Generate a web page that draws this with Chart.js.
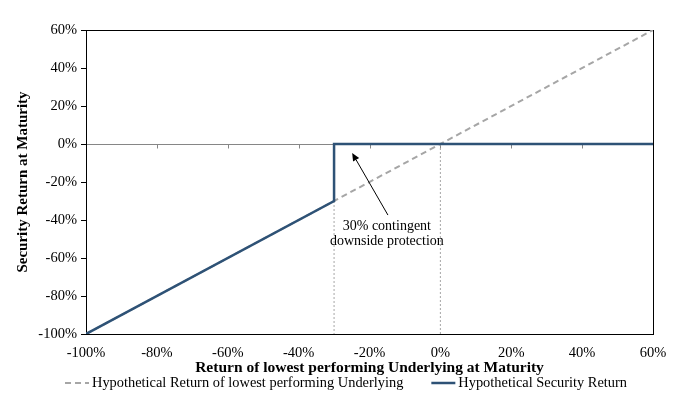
<!DOCTYPE html>
<html><head><meta charset="utf-8">
<script src="https://cdn.jsdelivr.net/npm/chart.js@4.4.1/dist/chart.umd.min.js"></script>
<style>html,body{margin:0;padding:0;background:#fff;} #wrap{width:692px;height:400px;position:relative;}</style>
</head><body><div id="wrap"><canvas id="c"></canvas></div>
<script>
const axisTicks = [-100, -80, -60, -40, -20, 0, 20, 40, 60];
const underlyingX = [-100, 60];
const underlyingY = [-100, 60];
const securityX = [-100, -30, -30, 60];
const securityY = [-100, -30, 0, 0];
const barrierLineX = [-30, -30];
const barrierLineY = [-30, -100];
const zeroLineX = [0, 0];
const zeroLineY = [0, -100];
const seriesNames = ['Hypothetical Return of lowest performing Underlying', 'Hypothetical Security Return'];
const xTitle = 'Return of lowest performing Underlying at Maturity';
const yTitle = 'Security Return at Maturity';
const noteLines = ['30% contingent', 'downside protection'];
const noteAnchor = [-15.1, -43.2];
const arrowTail = [-14.8, -37.4];
const arrowHead = [-24.9, -4.7];

const pts = (xs, ys) => xs.map((v, i) => ({x: v, y: ys[i]}));
const FONT = '"Liberation Serif", "DejaVu Serif", serif';

const framePlugin = {
  id: 'framePlugin',
  beforeDatasetsDraw(chart) {
    const {ctx, chartArea: a, scales: {x, y}} = chart;
    ctx.save();
    const y0 = Math.round(y.getPixelForValue(0)) + 0.5;
    ctx.strokeStyle = '#868686';
    ctx.lineWidth = 1;
    ctx.beginPath();
    axisTicks.forEach(v => {
      const px = Math.round(x.getPixelForValue(v)) + 0.5;
      ctx.moveTo(px, y0); ctx.lineTo(px, y0 + 4);
    });
    ctx.stroke();
    ctx.strokeStyle = '#000';
    ctx.strokeRect(Math.round(a.left) + 0.5, Math.round(a.top) + 0.5, Math.round(a.right - a.left), Math.round(a.bottom - a.top));
    ctx.restore();
  },
  afterDatasetsDraw(chart) {
    const {ctx, scales: {x, y}} = chart;
    ctx.save();
    const tx = x.getPixelForValue(arrowTail[0]), ty = y.getPixelForValue(arrowTail[1]);
    const hx = x.getPixelForValue(arrowHead[0]), hy = y.getPixelForValue(arrowHead[1]);
    const ang = Math.atan2(hy - ty, hx - tx);
    const L = 8, W = 3.5;
    const bx = hx - L * Math.cos(ang), by = hy - L * Math.sin(ang);
    ctx.strokeStyle = '#000'; ctx.fillStyle = '#000'; ctx.lineWidth = 1;
    ctx.beginPath(); ctx.moveTo(tx, ty); ctx.lineTo(bx, by); ctx.stroke();
    ctx.beginPath();
    ctx.moveTo(hx, hy);
    ctx.lineTo(bx + W * Math.sin(ang), by - W * Math.cos(ang));
    ctx.lineTo(bx - W * Math.sin(ang), by + W * Math.cos(ang));
    ctx.closePath(); ctx.fill();
    ctx.font = '14px ' + FONT;
    ctx.textAlign = 'center'; ctx.textBaseline = 'middle';
    const nx = x.getPixelForValue(noteAnchor[0]), ny = y.getPixelForValue(noteAnchor[1]);
    noteLines.forEach((t, i) => ctx.fillText(t, nx, ny + i * 15));
    ctx.restore();
  },
  afterDraw(chart) {
    const {ctx} = chart;
    const items = chart.data.datasets.filter(d => d.inLegend);
    ctx.save();
    ctx.font = '14.4px ' + FONT;
    const sample = 24, gapText = 3, gapItem = 28;
    const widths = items.map(d => sample + gapText + ctx.measureText(d.label).width);
    const total = widths.reduce((s, w) => s + w, 0) + gapItem * (items.length - 1);
    let cx = (chart.width - total) / 2;
    const cy = 383;
    items.forEach((d, i) => {
      ctx.strokeStyle = d.borderColor; ctx.lineWidth = d.borderWidth;
      ctx.setLineDash(d.borderDash || []);
      ctx.beginPath(); ctx.moveTo(cx, cy); ctx.lineTo(cx + sample, cy); ctx.stroke();
      ctx.setLineDash([]);
      ctx.fillStyle = '#000'; ctx.textAlign = 'left'; ctx.textBaseline = 'middle';
      ctx.fillText(d.label, cx + sample + gapText, cy);
      cx += widths[i] + gapItem;
    });
    ctx.restore();
  }
};

new Chart(document.getElementById('c'), {
  type: 'line',
  data: {
    datasets: [
      {label: seriesNames[0], data: pts(underlyingX, underlyingY), borderColor: '#A6A6A6', borderWidth: 2, borderDash: [6, 4], pointRadius: 0, order: 2, inLegend: true},
      {label: seriesNames[1], data: pts(securityX, securityY), borderColor: '#2E5276', borderWidth: 2.5, pointRadius: 0, order: 0, inLegend: true},
      {label: 'barrier', data: pts(barrierLineX, barrierLineY), borderColor: '#A6A6A6', borderWidth: 1, borderDash: [2, 2], pointRadius: 0, order: 3},
      {label: 'zero', data: pts(zeroLineX, zeroLineY), borderColor: '#A6A6A6', borderWidth: 1, borderDash: [2, 2], pointRadius: 0, order: 3}
    ]
  },
  options: {
    responsive: true, maintainAspectRatio: false, animation: false,
    layout: {padding: {top: 30, right: 39, left: 0, bottom: 0}},
    plugins: {legend: {display: false}, tooltip: {enabled: false}},
    elements: {line: {tension: 0, fill: false}},
    scales: {
      x: {
        type: 'linear', min: -100, max: 60,
        afterBuildTicks: s => { s.ticks = axisTicks.map(v => ({value: v})); },
        afterFit: s => { s.height = 66; },
        grid: {display: false}, border: {display: false},
        ticks: {callback: v => v + '%', color: '#000', font: {family: FONT, size: 14.5}, padding: 2, maxRotation: 0},
        title: {display: true, text: xTitle, color: '#000', font: {family: FONT, size: 15.5, weight: 'bold'}, padding: {top: 0, bottom: 23}}
      },
      y: {
        type: 'linear', min: -100, max: 60,
        afterBuildTicks: s => { s.ticks = axisTicks.map(v => ({value: v})); },
        afterFit: s => { s.width = 86; },
        border: {display: false},
        grid: {color: c => (c.tick && c.tick.value === 0) ? '#868686' : 'rgba(0,0,0,0)', drawTicks: true, tickLength: 5, tickColor: '#000'},
        ticks: {callback: v => v + '%', color: '#000', font: {family: FONT, size: 14.5}, padding: 4},
        title: {display: true, text: yTitle, color: '#000', font: {family: FONT, size: 15, weight: 'bold'}, padding: {top: 14, bottom: 0}}
      }
    }
  },
  plugins: [framePlugin]
});
</script></body></html>
